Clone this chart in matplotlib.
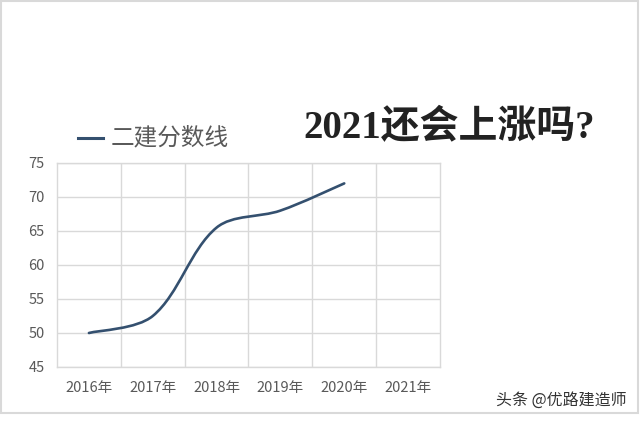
import numpy as np
import matplotlib.pyplot as plt
from matplotlib.path import Path
from matplotlib.patches import PathPatch, Rectangle
from matplotlib.lines import Line2D

plt.rcParams['font.family'] = ['Noto Sans CJK SC', 'DejaVu Sans']

years = ["2016年", "2017年", "2018年", "2019年", "2020年", "2021年"]
scores = [50, 52.5, 65.5, 68, 72]
yticks = [45, 50, 55, 60, 65, 70, 75]
series_name = "二建分数线"
title = "2021还会上涨吗?"
watermark = "头条 @优路建造师"

line_color = "#34506f"
grid_color = "#d9d9d9"
text_color = "#595959"

fig = plt.figure(figsize=(6.4, 4.21), dpi=100)
ax = fig.add_axes([57 / 640, 1 - 367 / 421, 383 / 640, 204 / 421])
ax.set_xlim(-0.5, len(years) - 0.5)
ax.set_ylim(45, 75)

# smoothed line like Excel: cubic bezier, handles scaled by chord length on screen
x = np.arange(len(scores), dtype=float)
y = np.array(scores, dtype=float)
fig.canvas.draw()
pts_px = ax.transData.transform(np.column_stack([x, y]))
n = len(x)


def dist(a, b):
    return np.hypot(*(pts_px[a] - pts_px[b]))


verts = [(x[0], y[0])]
codes = [Path.MOVETO]
for i in range(n - 1):
    i0, i1, i2, i3 = max(i - 1, 0), i, i + 1, min(i + 2, n - 1)
    p0, p1, p2, p3 = [np.array([x[k], y[k]]) for k in (i0, i1, i2, i3)]
    d01, d12, d23 = dist(i0, i1), dist(i1, i2), dist(i2, i3)
    f1 = d12 / (3 * (d01 + d12)) if d01 > 0 else 1 / 6
    f2 = d12 / (3 * (d12 + d23)) if d23 > 0 else 1 / 6
    c1 = p1 + (p2 - p0) * f1
    c2 = p2 - (p3 - p1) * f2
    verts += [tuple(c1), tuple(c2), tuple(p2)]
    codes += [Path.CURVE4] * 3
ax.add_patch(PathPatch(Path(verts, codes), facecolor="none", edgecolor=line_color,
                       lw=1.9, capstyle="round", joinstyle="round", zorder=3))

ax.set_yticks(yticks)
ax.set_xticks(range(len(years)))
ax.set_xticklabels(years)
ax.set_xticks(np.arange(0.5, len(years) - 0.5), minor=True)
ax.tick_params(which="both", length=0, colors=text_color, labelsize=10.5)
ax.tick_params(axis="x", pad=10)
ax.tick_params(axis="y", pad=9)
ax.grid(True, axis="y", color=grid_color, lw=1)
ax.grid(True, axis="x", which="minor", color=grid_color, lw=1)
ax.grid(False, axis="x", which="major")
for s in ax.spines.values():
    s.set_color(grid_color)
    s.set_linewidth(1)
ax.set_axisbelow(True)

# legend
fig.add_artist(Line2D([78 / 640, 103 / 640], [1 - 138 / 421] * 2, color=line_color, lw=2.2))
fig.text(111 / 640, 1 - 138 / 421, series_name, fontsize=17, color=text_color, va="center")

fig.text(449 / 640, 1 - 129 / 421, title, fontsize=28, fontweight="bold", color="#222222",
         ha="center", va="center", family=["Liberation Serif", "Noto Sans CJK SC"])

fig.text(627 / 640, 1 - 400 / 421, watermark, fontsize=11.5, color="#333333", ha="right", va="center")

# outer frame
fig.add_artist(Rectangle((1 / 640, 1 - 413 / 421), 637 / 640, 412 / 421, transform=fig.transFigure,
                         fill=False, edgecolor=grid_color, lw=1.5))

fig.savefig("out.png", dpi=100)
